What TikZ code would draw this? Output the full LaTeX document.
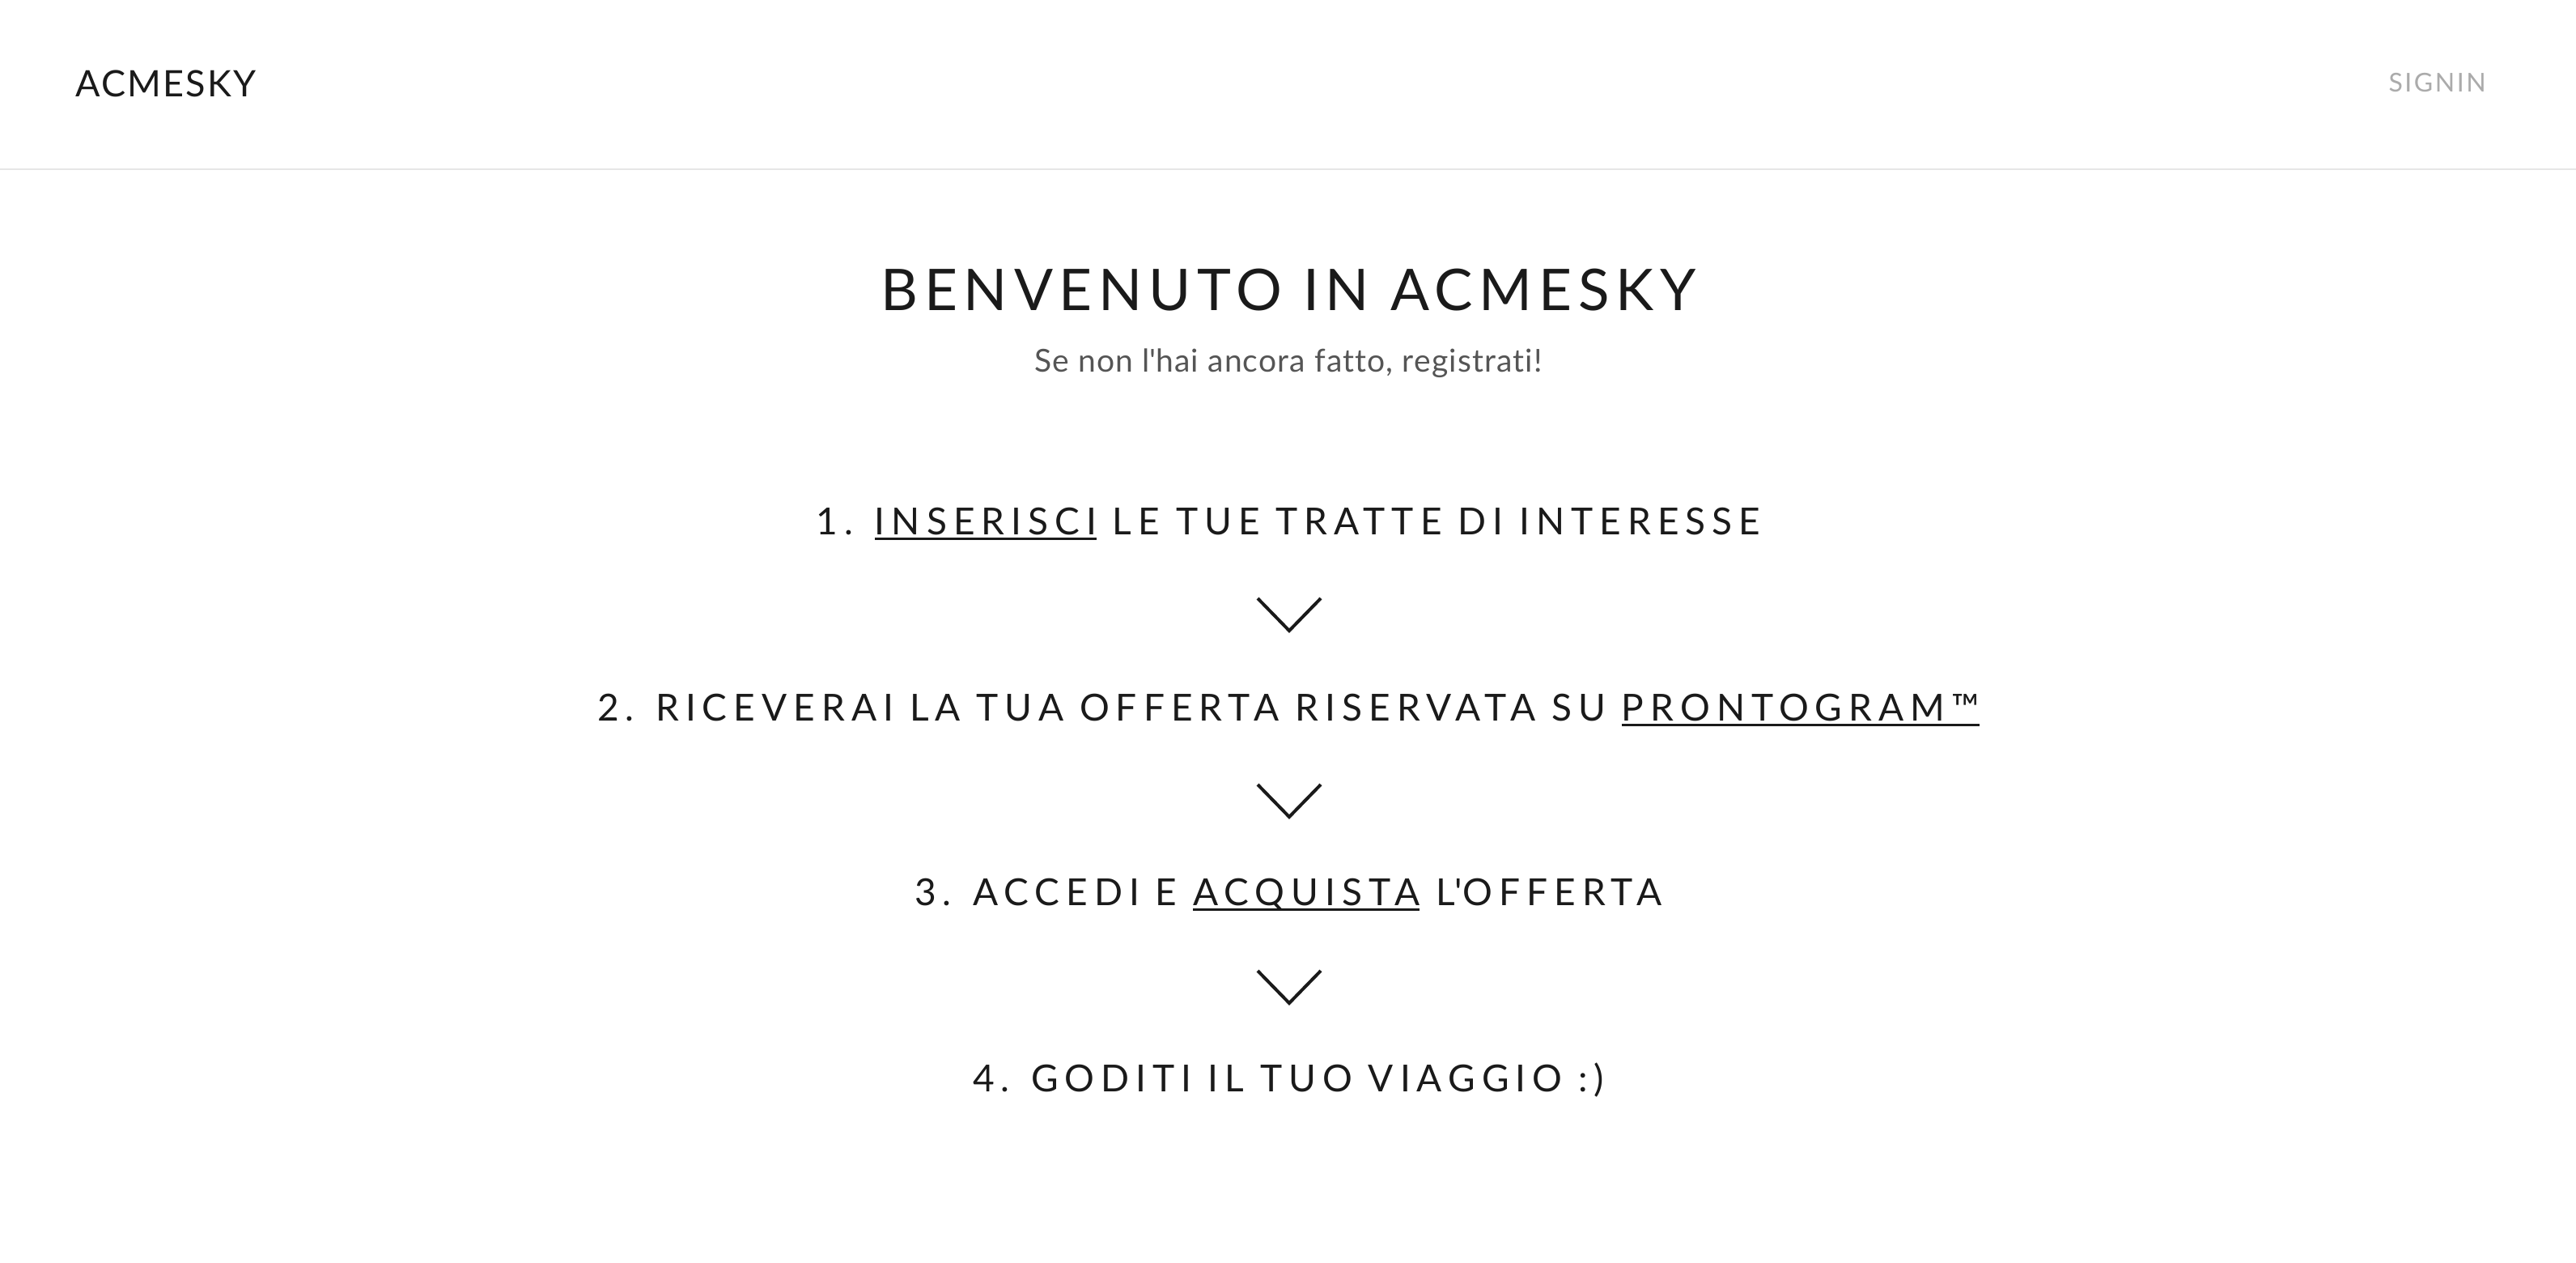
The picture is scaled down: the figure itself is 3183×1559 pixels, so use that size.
\documentclass[tikz,border=0pt]{standalone}
\usepackage{fontspec}
\setmainfont{Lato}
\newfontfamily\brandfont[LetterSpace=5]{Lato}
\newfontfamily\navfont[LetterSpace=8]{Lato}
\newfontfamily\titlefont[LetterSpace=11]{Lato}
\newfontfamily\subfont[LetterSpace=3,Ligatures=NoCommon]{Lato}
\newfontfamily\stepfont[LetterSpace=17.5]{Lato}
\definecolor{ink}{HTML}{1A1A1A}
\definecolor{muted}{HTML}{ABABAB}
\definecolor{subgray}{HTML}{555555}
\definecolor{rulegray}{HTML}{E6E6E6}
\newsavebox\lnkbox
\newcommand\lnk[1]{\sbox\lnkbox{#1}\rlap{\rule[-6.5pt]{\wd\lnkbox}{3pt}}\usebox\lnkbox}
\begin{document}
\begin{tikzpicture}[x=1pt,y=-1pt,
    brand/.style={inner sep=0pt, text=ink, font=\brandfont\fontsize{45}{54}\selectfont},
    nav/.style={inner sep=0pt, text=muted, font=\navfont\fontsize{32}{38}\selectfont},
    title/.style={inner sep=0pt, anchor=base, text=ink, font=\titlefont\fontsize{71}{85}\selectfont},
    subtitle/.style={inner sep=0pt, anchor=base, text=subgray, font=\subfont\fontsize{39}{47}\selectfont},
    stepline/.style={inner sep=0pt, anchor=base, text=ink, font=\stepfont\fontsize{46}{55}\selectfont},
    chevron/.style={draw=ink, line width=4pt, miter limit=10},
  ]
    \useasboundingbox[fill=white] (0,0) rectangle (3183,1559);

    % header
    \node[brand, anchor=base west] (brand) at (93,119) {ACMESKY};
    \node[nav, anchor=base east] (signin) at (3072,113) {SIGNIN};
    \draw[rulegray, line width=2.5pt] (0,209) -- (3183,209);

    \node[title] (welcome) at (1592,383) {BENVENUTO IN ACMESKY};
    \node[subtitle] (hint) at (1592,459) {Se non l\textquotesingle hai ancora fatto, registrati!};

    % steps
    \node[stepline] (s1) at (1592,660) {1. \lnk{INSERISCI} LE TUE TRATTE DI INTERESSE};
    \node[stepline] (s2) at (1592,890) {2. RICEVERAI LA TUA OFFERTA RISERVATA SU \lnk{PRONTOGRAM™}};
    \node[stepline] (s3) at (1592,1118) {3. ACCEDI E \lnk{ACQUISTA} L\textquotesingle OFFERTA};
    \node[stepline] (s4) at (1592,1348) {4. GODITI IL TUO VIAGGIO :)};

    \foreach \y in {739,969,1199}
      \draw[chevron] (1554,\y) -- ++(39,40) -- ++(39,-40);

  \end{tikzpicture}
\end{document}
